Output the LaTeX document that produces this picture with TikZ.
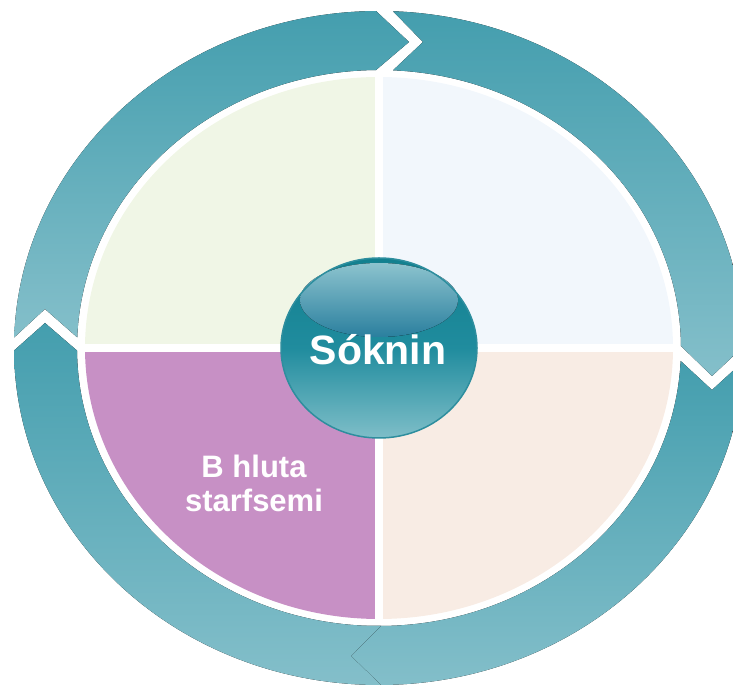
\documentclass[tikz,border=0pt]{standalone}
\usepackage{fontspec}
\setmainfont{Liberation Sans}
\usetikzlibrary{calc}
\definecolor{ringdark}{HTML}{449EAE}
\definecolor{ringlight}{HTML}{84BFCA}
\definecolor{qgreen}{HTML}{F0F6E6}
\definecolor{qblue}{HTML}{F2F7FC}
\definecolor{qpeach}{HTML}{F8ECE4}
\definecolor{qpurple}{HTML}{C790C5}
\definecolor{hubtop}{HTML}{12808F}
\definecolor{hubmid}{HTML}{208C9E}
\definecolor{hubbot}{HTML}{7EBEC8}
\definecolor{glosstop}{HTML}{8CC3CE}
\definecolor{glossbot}{HTML}{2A7F9E}
\definecolor{hubrim}{HTML}{2E8E9E}
\begin{document}
\begin{tikzpicture}[x=1pt,y=1pt,
  arrowseg/.style={top color=ringdark, bottom color=ringlight, draw=none},
  divider/.style={white, line width=8pt},
  hubtext/.style={text=white, font=\fontsize{41}{49}\selectfont\bfseries, inner sep=0pt},
  quadtext/.style={text=white, font=\fontsize{31}{34}\selectfont\bfseries, align=center, inner sep=0pt}]
\useasboundingbox (0,0) rectangle (733,687);
\clip (0,0) rectangle (733,687);
\coordinate (C) at (379,339);

% quadrants
\fill[qgreen] (C) -- ($(C)+(-294pt,0)$) arc[start angle=180, end angle=90, x radius=294pt, y radius=271pt] -- cycle;
\fill[qblue] (C) -- ($(C)+(0,271pt)$) arc[start angle=90, end angle=0, x radius=294pt, y radius=271pt] -- cycle;
\fill[qpeach] (C) -- ($(C)+(294pt,0)$) arc[start angle=0, end angle=-90, x radius=294pt, y radius=271pt] -- cycle;
\fill[qpurple] (C) -- ($(C)+(0,-271pt)$) arc[start angle=270, end angle=180, x radius=294pt, y radius=271pt] -- cycle;
\draw[divider] ($(C)+(-298pt,0)$) -- ($(C)+(298pt,0)$);
\draw[divider] ($(C)+(0,-276pt)$) -- ($(C)+(0,276pt)$);

% ring arrows (clockwise)
\coordinate (tlo) at ($(C)+(178.20:365pt and 337pt)$);
\coordinate (tli) at ($(C)+(90.57:302pt and 278pt)$);
\coordinate (tltip) at (409,645);
\coordinate (tlnotch) at (45,378);
\fill[arrowseg] (tlo) arc[start angle=178.20, end angle=90.47, x radius=365pt, y radius=337pt]
  -- (tltip) -- (tli) arc[start angle=90.57, end angle=177.81, x radius=302pt, y radius=278pt]
  -- (tlnotch) -- cycle;

\coordinate (tro) at ($(C)+(87.80:365pt and 337pt)$);
\coordinate (tri) at ($(C)+(0.41:302pt and 278pt)$);
\coordinate (trtip) at (712,311);
\coordinate (trnotch) at (423,645);
\fill[arrowseg] (tro) arc[start angle=87.80, end angle=0.34, x radius=365pt, y radius=337pt]
  -- (trtip) -- (tri) arc[start angle=0.41, end angle=87.34, x radius=302pt, y radius=278pt]
  -- (trnotch) -- cycle;

\coordinate (bro) at ($(C)+(-2.21:365pt and 337pt)$);
\coordinate (bri) at ($(C)+(-92.28:302pt and 278pt)$);
\coordinate (brtip) at (336,31);
\coordinate (brnotch) at (712,297);
\fill[arrowseg] (bro) arc[start angle=-2.21, end angle=-91.88, x radius=365pt, y radius=337pt]
  -- (brtip) -- (bri) arc[start angle=-92.28, end angle=-2.68, x radius=302pt, y radius=278pt]
  -- (brnotch) -- cycle;

\coordinate (blo) at ($(C)+(-89.69:365pt and 337pt)$);
\coordinate (bli) at ($(C)+(-179.46:302pt and 278pt)$);
\coordinate (bltip) at (45,364);
\coordinate (blnotch) at (351,31);
\fill[arrowseg] (blo) arc[start angle=-89.69, end angle=-179.56, x radius=365pt, y radius=337pt]
  -- (bltip) -- (bli) arc[start angle=-179.46, end angle=-89.62, x radius=302pt, y radius=278pt]
  -- (blnotch) -- cycle;

% hub
\fill[top color=hubtop, bottom color=hubbot, middle color=hubmid] (C) ellipse[x radius=98pt, y radius=90pt];
\fill[top color=glosstop, bottom color=glossbot] (379,387) ellipse[x radius=79pt, y radius=37pt];
\draw[hubrim, line width=1.5pt] (C) ellipse[x radius=98pt, y radius=90pt];
\node[hubtext, anchor=base] (hub) at (378,322) {Sóknin};

\node[quadtext] (bq) at (254,204) {B hluta\\starfsemi};
\end{tikzpicture}
\end{document}
